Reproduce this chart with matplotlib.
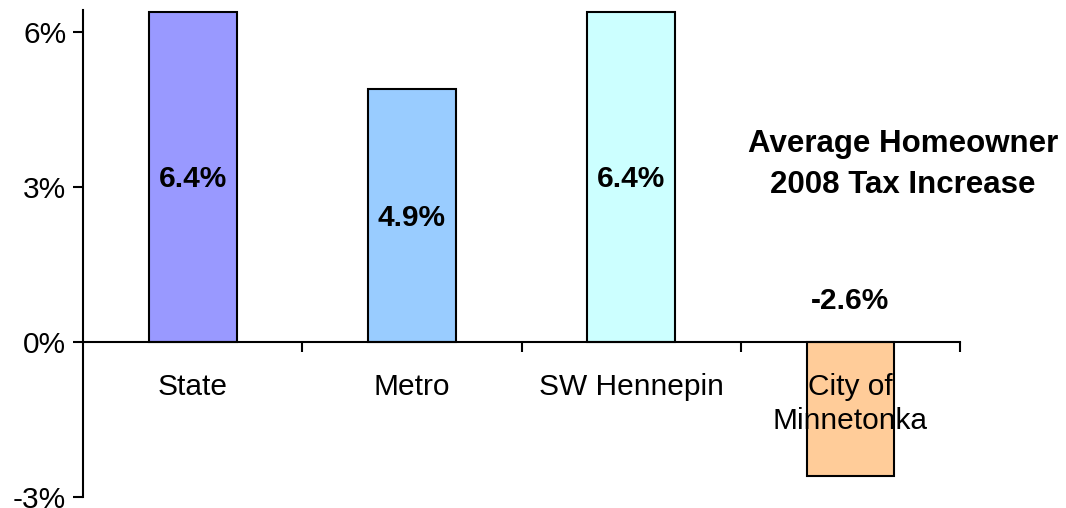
import numpy as np
import matplotlib.pyplot as plt

plt.rcParams['font.family'] = ['Liberation Sans', 'DejaVu Sans']

# data
categories = ['State', 'Metro', 'SW Hennepin', 'City of\nMinnetonka']
increase = [6.4, 4.9, 6.4, -2.6]
bar_colors = ['#9999FF', '#99CCFF', '#CCFFFF', '#FFCC99']
yticks = [-3, 0, 3, 6]

FS = 21.5

fig = plt.figure(figsize=(10.66, 5.08), dpi=100)
ax = fig.add_axes([0.0779, 0.0217, 0.8227, 0.9586])

x = np.arange(len(categories))
ax.bar(x, increase, width=0.4, color=bar_colors, edgecolor='black', linewidth=1.5, zorder=2)

# value labels
for xi, v in zip(x, increase):
    ypos = v / 2 if v > 0 else 0.85
    ax.text(xi, ypos - 0.05, '{:.1f}%'.format(v), ha='center', va='center',
            fontsize=FS, fontweight='bold', zorder=3)

ax.set_xlim(-0.5, len(categories) - 0.5)
ax.set_ylim(-3, 6.43)

# axes look
for s in ['top', 'right']:
    ax.spines[s].set_visible(False)
ax.spines['bottom'].set_position(('data', 0))
ax.spines['left'].set_linewidth(1.5)
ax.spines['bottom'].set_linewidth(1.5)

ax.set_yticks(yticks)
ax.set_yticklabels(['{}%'.format(t) for t in yticks], fontsize=FS)
ax.tick_params(axis='y', direction='out', length=7, width=1.5, pad=5)

ax.set_xticks([len(categories) - 0.5] + list(x[:-1] + 0.5))
ax.set_xticklabels([])
ax.tick_params(axis='x', which='major', direction='out', length=7, width=1.5)
ax.set_xticks(x, categories, minor=True)
ax.tick_params(axis='x', which='minor', length=0, pad=22, labelsize=FS)
for lbl in ax.get_xticklabels(minor=True):
    lbl.set_linespacing(1.3)
ax.xaxis.set_zorder(3)

fig.text(0.847, 0.676, 'Average Homeowner\n2008 Tax Increase', ha='center', va='center',
         fontsize=22.5, fontweight='bold', linespacing=1.45)

fig.savefig('out.png', dpi=100)
